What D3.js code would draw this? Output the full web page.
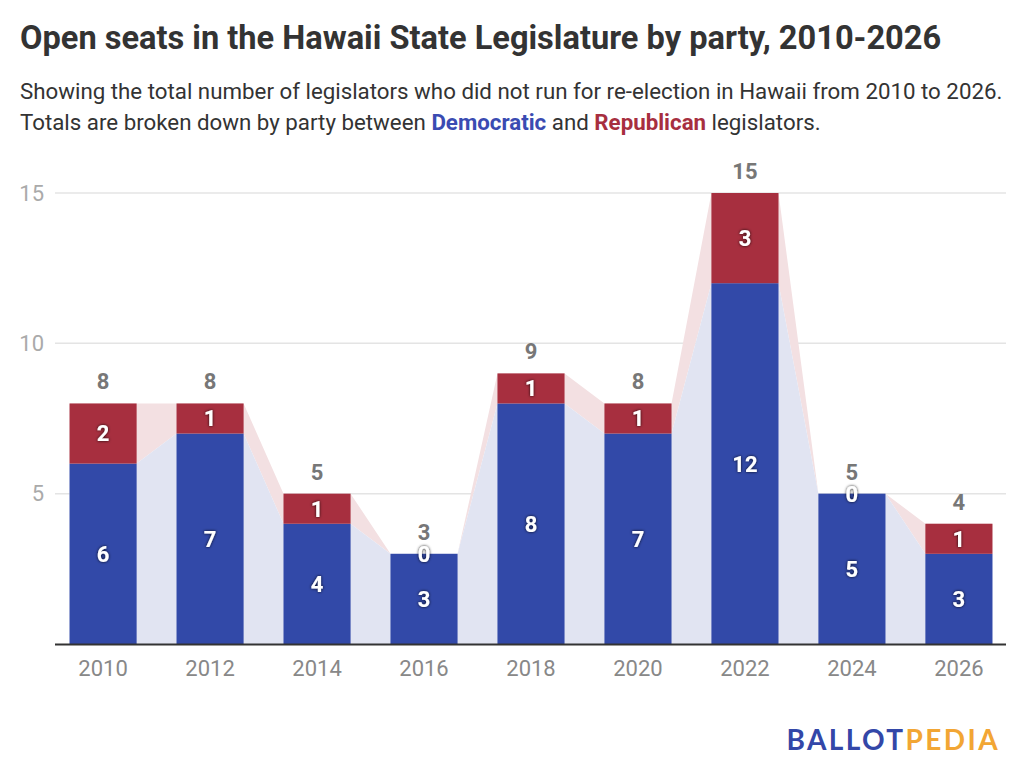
<!DOCTYPE html>
<html>
<head>
<meta charset="utf-8">
<script src="https://cdn.jsdelivr.net/npm/d3@7"></script>
<style>
  body { margin: 0; background: #fff; }
  svg { display: block; font-family: Roboto, sans-serif; }
</style>
</head>
<body>
<div id="viz"></div>
<script>
const years = ['2010', '2012', '2014', '2016', '2018', '2020', '2022', '2024', '2026'];
const democratic = [6, 7, 4, 3, 8, 7, 12, 5, 3];
const republican = [2, 1, 1, 0, 1, 1, 3, 0, 1];
const yTicks = [5, 10, 15];

const width = 1024;
const height = 777;
const margin = {top: 193, right: 18, bottom: 133, left: 55};
const demColor = '#3249a8';
const repColor = '#a72f3f';
const demArea = '#e1e4f2';
const repArea = '#f3e0e2';

const data = years.map((y, i) => ({
  year: y,
  dem: democratic[i],
  rep: republican[i],
  total: democratic[i] + republican[i]
}));

const svg = d3.select('#viz')
  .append('svg')
    .attr('width', width)
    .attr('height', height);

const defs = svg.append('defs');
defs.append('filter')
    .attr('id', 'shadow')
    .attr('x', '-50%').attr('y', '-50%')
    .attr('width', '200%').attr('height', '200%')
  .append('feDropShadow')
    .attr('dx', 0).attr('dy', 0)
    .attr('stdDeviation', 1.6)
    .attr('flood-color', '#000')
    .attr('flood-opacity', 0.9);

// Title + subtitle
svg.append('text')
    .attr('x', 20).attr('y', 49)
    .attr('fill', '#333')
    .style('font-size', '32.6px')
    .style('font-weight', 700)
    .text('Open seats in the Hawaii State Legislature by party, 2010-2026');

const sub = svg.append('g')
    .attr('fill', '#333')
    .style('font-size', '22.3px');
sub.append('text')
    .attr('x', 20).attr('y', 99)
    .text('Showing the total number of legislators who did not run for re-election in Hawaii from 2010 to 2026.');
const line2 = sub.append('text').attr('x', 20).attr('y', 130);
line2.append('tspan').text('Totals are broken down by party between ');
line2.append('tspan').attr('fill', '#3a4bb2').style('font-weight', 700).text('Democratic');
line2.append('tspan').text(' and ');
line2.append('tspan').attr('fill', '#a72f3f').style('font-weight', 700).text('Republican');
line2.append('tspan').text(' legislators.');

// Scales
const xScale = d3.scaleBand()
    .domain(years)
    .range([margin.left, width - margin.right + 1])
    .paddingInner(0.373)
    .paddingOuter(0.136);
const yScale = d3.scaleLinear()
    .domain([0, 15])
    .range([height - margin.bottom, margin.top]);

// Grid
svg.append('g')
    .attr('class', 'grid')
  .selectAll('line')
  .data(yTicks)
  .join('line')
    .attr('x1', margin.left)
    .attr('x2', width - margin.right)
    .attr('y1', d => yScale(d))
    .attr('y2', d => yScale(d))
    .attr('stroke', '#e4e4e4')
    .attr('stroke-width', 1.5);

svg.append('g')
    .attr('fill', '#aaa')
    .style('font-size', '22px')
  .selectAll('text')
  .data(yTicks)
  .join('text')
    .attr('x', 44)
    .attr('y', d => yScale(d))
    .attr('dy', '0.35em')
    .attr('text-anchor', 'end')
    .text(d => d);

// Connecting areas between bars
const pts = [];
data.forEach(d => {
  pts.push({x: xScale(d.year), d});
  pts.push({x: xScale(d.year) + xScale.bandwidth(), d});
});

svg.append('path')
    .datum(pts)
    .attr('fill', repArea)
    .attr('d', d3.area()
      .x(p => p.x)
      .y0(p => yScale(p.d.dem))
      .y1(p => yScale(p.d.total)));

svg.append('path')
    .datum(pts)
    .attr('fill', demArea)
    .attr('d', d3.area()
      .x(p => p.x)
      .y0(yScale(0))
      .y1(p => yScale(p.d.dem)));

// Bars
const bars = svg.append('g').attr('class', 'bars-group');
bars.selectAll('rect.dem')
  .data(data)
  .join('rect')
    .attr('class', 'dem')
    .attr('x', d => xScale(d.year))
    .attr('width', xScale.bandwidth())
    .attr('y', d => yScale(d.dem))
    .attr('height', d => yScale(0) - yScale(d.dem))
    .attr('fill', demColor);
bars.selectAll('rect.rep')
  .data(data)
  .join('rect')
    .attr('class', 'rep')
    .attr('x', d => xScale(d.year))
    .attr('width', xScale.bandwidth())
    .attr('y', d => yScale(d.total))
    .attr('height', d => yScale(d.dem) - yScale(d.total))
    .attr('fill', repColor);

// Baseline
svg.append('line')
    .attr('x1', margin.left)
    .attr('x2', width - margin.right)
    .attr('y1', yScale(0) + 0.5)
    .attr('y2', yScale(0) + 0.5)
    .attr('stroke', '#333')
    .attr('stroke-width', 2);

// x axis labels
svg.append('g')
    .attr('fill', '#888')
    .style('font-size', '22px')
  .selectAll('text')
  .data(years)
  .join('text')
    .attr('x', d => xScale(d) + xScale.bandwidth() / 2)
    .attr('y', yScale(0) + 32)
    .attr('text-anchor', 'middle')
    .text(d => d);

// Value labels in bars
const labels = svg.append('g')
    .attr('fill', '#fff')
    .attr('text-anchor', 'middle')
    .attr('filter', 'url(#shadow)')
    .style('font-size', '22px')
    .style('font-weight', 700);
labels.selectAll('text.dem')
  .data(data)
  .join('text')
    .attr('x', d => xScale(d.year) + xScale.bandwidth() / 2)
    .attr('y', d => yScale(d.dem / 2))
    .attr('dy', '0.36em')
    .text(d => d.dem);
labels.selectAll('text.rep')
  .data(data)
  .join('text')
    .attr('x', d => xScale(d.year) + xScale.bandwidth() / 2)
    .attr('y', d => yScale(d.dem + d.rep / 2))
    .attr('dy', '0.36em')
    .text(d => d.rep);

// Totals
svg.append('g')
    .attr('fill', '#777')
    .attr('text-anchor', 'middle')
    .style('font-size', '22px')
    .style('font-weight', 700)
  .selectAll('text')
  .data(data)
  .join('text')
    .attr('x', d => xScale(d.year) + xScale.bandwidth() / 2)
    .attr('y', d => yScale(d.total) - 22)
    .attr('dy', '0.36em')
    .text(d => d.total);

// Logo
const logo = svg.append('text')
    .attr('x', 1000).attr('y', 750)
    .attr('text-anchor', 'end')
    .style('font-family', 'Lato, sans-serif')
    .style('font-size', '28px')
    .style('font-weight', 700)
    .style('letter-spacing', '2.4px');
logo.append('tspan').attr('fill', '#3347a8').text('BALLOT');
logo.append('tspan').attr('fill', '#f2a634').text('PEDIA');
</script>
</body>
</html>
